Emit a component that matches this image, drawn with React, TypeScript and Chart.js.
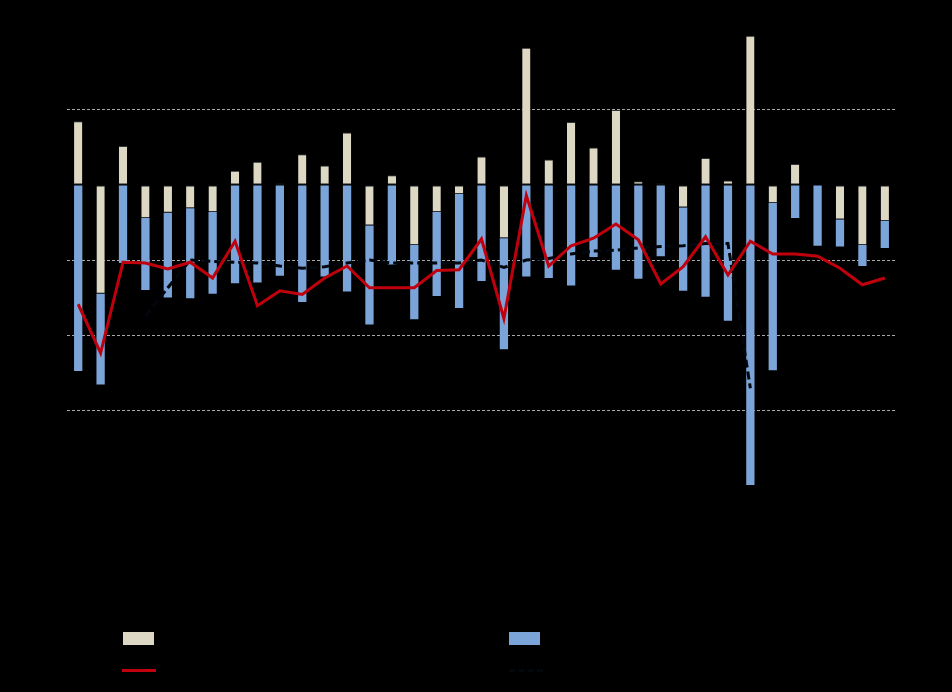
import React, { useEffect, useRef } from "react";
import { Chart, registerables } from "chart.js";

Chart.register(...registerables);

const categories = [
  "1980", "1981", "1982", "1983", "1984", "1985", "1986", "1987", "1988", "1989",
  "1990", "1991", "1992", "1993", "1994", "1995", "1996", "1997", "1998", "1999",
  "2000", "2001", "2002", "2003", "2004", "2005", "2006", "2007", "2008", "2009",
  "2010", "2011", "2012", "2013", "2014", "2015", "2016",
];

const beigeValues = [
  0.85, -1.45, 0.52, -0.44, -0.37, -0.31, -0.36, 0.19, 0.31, 0.02,
  0.41, 0.26, 0.7, -0.54, 0.13, -0.8, -0.36, -0.12, 0.38, -0.71,
  1.83, 0.34, 0.84, 0.5, 1.0, 0.05, 0.02, -0.3, 0.36, 0.06,
  1.99, -0.24, 0.28, 0, -0.46, -0.8, -0.48,
];

const blueValues = [
  -2.48, -1.21, -1.04, -0.96, -1.13, -1.2, -1.09, -1.31, -1.3, -1.21,
  -1.56, -1.22, -1.42, -1.32, -1.06, -0.99, -1.12, -1.52, -1.28, -1.48,
  -1.22, -1.24, -1.34, -0.96, -1.13, -1.25, -0.95, -1.11, -1.49, -1.81,
  -4.0, -2.23, -0.44, -0.81, -0.36, -0.28, -0.36,
];

const redValues = [
  -1.59, -2.24, -1.03, -1.04, -1.12, -1.03, -1.24, -0.75, -1.61, -1.41,
  -1.46, -1.24, -1.08, -1.37, -1.37, -1.37, -1.14, -1.13, -0.72, -1.78,
  -0.14, -1.08, -0.81, -0.71, -0.52, -0.73, -1.32, -1.09, -0.69, -1.2,
  -0.75, -0.92, -0.92, -0.95, -1.11, -1.33, -1.24,
];

const dashedValues = [
  null, null, null, -1.75, -1.37, -1.0, -1.02, -1.03, -1.04, -1.08,
  -1.11, -1.09, -1.04, -1.0, -1.04, -1.04, -1.04, -1.04, -1.0, -1.1,
  -1.0, -0.98, -0.92, -0.88, -0.87, -0.84, -0.82, -0.81, -0.78, -0.78,
  -2.71, null, null, null, null, null, null,
];

const yTicks = [-4, -3, -2, -1, 0, 1, 2];

const seriesNames = ["Series A", "Series B", "Total", "Trend"];

export default function App() {
  const canvasRef = useRef<HTMLCanvasElement | null>(null);

  useEffect(() => {
    const canvas = canvasRef.current;
    if (!canvas) return;
    const chart = new Chart(canvas, {
      type: "bar",
      data: {
        labels: categories,
        datasets: [
          {
            type: "line",
            label: seriesNames[2],
            data: redValues,
            borderColor: "#c0000c",
            backgroundColor: "#c0000c",
            borderWidth: 3,
            pointRadius: 0,
            tension: 0,
            stack: "red",
            order: 0,
          } as any,
          {
            type: "line",
            label: seriesNames[3],
            data: dashedValues,
            borderColor: "#02060d",
            backgroundColor: "#02060d",
            borderWidth: 3,
            borderDash: [8, 4],
            pointRadius: 0,
            tension: 0,
            spanGaps: false,
            stack: "dash",
            order: 1,
          } as any,
          {
            type: "bar",
            label: seriesNames[0],
            data: beigeValues,
            backgroundColor: "#ddd8c3",
            borderColor: "#2e3238",
            borderWidth: { top: 1, bottom: 1, left: 0, right: 0 },
            borderSkipped: false,
            stack: "bars",
            order: 2,
            barPercentage: 0.37,
            categoryPercentage: 1,
          },
          {
            type: "bar",
            label: seriesNames[1],
            data: blueValues,
            backgroundColor: "#7ba4d8",
            borderWidth: 0,
            stack: "bars",
            order: 3,
            barPercentage: 0.37,
            categoryPercentage: 1,
          },
        ],
      },
      options: {
        animation: false,
        responsive: false,
        devicePixelRatio: 1,
        layout: { padding: { left: 0, right: 56, top: 35, bottom: 0 } },
        plugins: {
          legend: { display: false },
          tooltip: { enabled: false },
        },
        scales: {
          x: {
            stacked: true,
            grid: { display: false },
            border: { display: false },
            ticks: { color: "#000", maxRotation: 90, minRotation: 90, font: { size: 12 } },
            afterFit: (scale: any) => {
              scale.height = 692 - 485;
            },
          },
          y: {
            stacked: true,
            min: yTicks[0],
            max: yTicks[yTicks.length - 1],
            afterBuildTicks: (scale: any) => {
              scale.ticks = yTicks.map((v) => ({ value: v }));
            },
            grid: {
              color: (ctx: any) => {
                const v = ctx.tick ? ctx.tick.value : 0;
                if (v === 0 || v === yTicks[0] || v === yTicks[yTicks.length - 1]) return "rgba(0,0,0,0)";
                return "#a8a8a8";
              },
              lineWidth: 1,
              drawTicks: false,
            },
            border: { display: false, dash: [3, 2] },
            ticks: { color: "#000", font: { size: 12 } },
            afterFit: (scale: any) => {
              scale.width = 67;
            },
          },
        },
      } as any,
    });
    return () => chart.destroy();
  }, []);

  const legendText: React.CSSProperties = {
    position: "absolute",
    color: "#000",
    fontFamily: "Liberation Sans, Arial, sans-serif",
    fontSize: 14,
    whiteSpace: "nowrap",
  };

  return (
    <div style={{ position: "fixed", left: 0, top: 0, width: 952, height: 692, background: "#000" }}>
      <canvas ref={canvasRef} width={952} height={692} style={{ display: "block" }} />
      <div style={{ position: "absolute", left: 123, top: 632, width: 31, height: 13, background: "#ddd8c3" }} />
      <div style={{ ...legendText, left: 164, top: 629 }}>{seriesNames[0]}</div>
      <div style={{ position: "absolute", left: 509, top: 632, width: 31, height: 13, background: "#7ba4d8" }} />
      <div style={{ ...legendText, left: 550, top: 629 }}>{seriesNames[1]}</div>
      <div style={{ position: "absolute", left: 122, top: 669, width: 34, height: 3, background: "#c0000c" }} />
      <div style={{ ...legendText, left: 164, top: 662 }}>{seriesNames[2]}</div>
      <div style={{ position: "absolute", left: 509, top: 669, width: 34, height: 0, borderTop: "3px dashed #02060d" }} />
      <div style={{ ...legendText, left: 550, top: 662 }}>{seriesNames[3]}</div>
    </div>
  );
}
